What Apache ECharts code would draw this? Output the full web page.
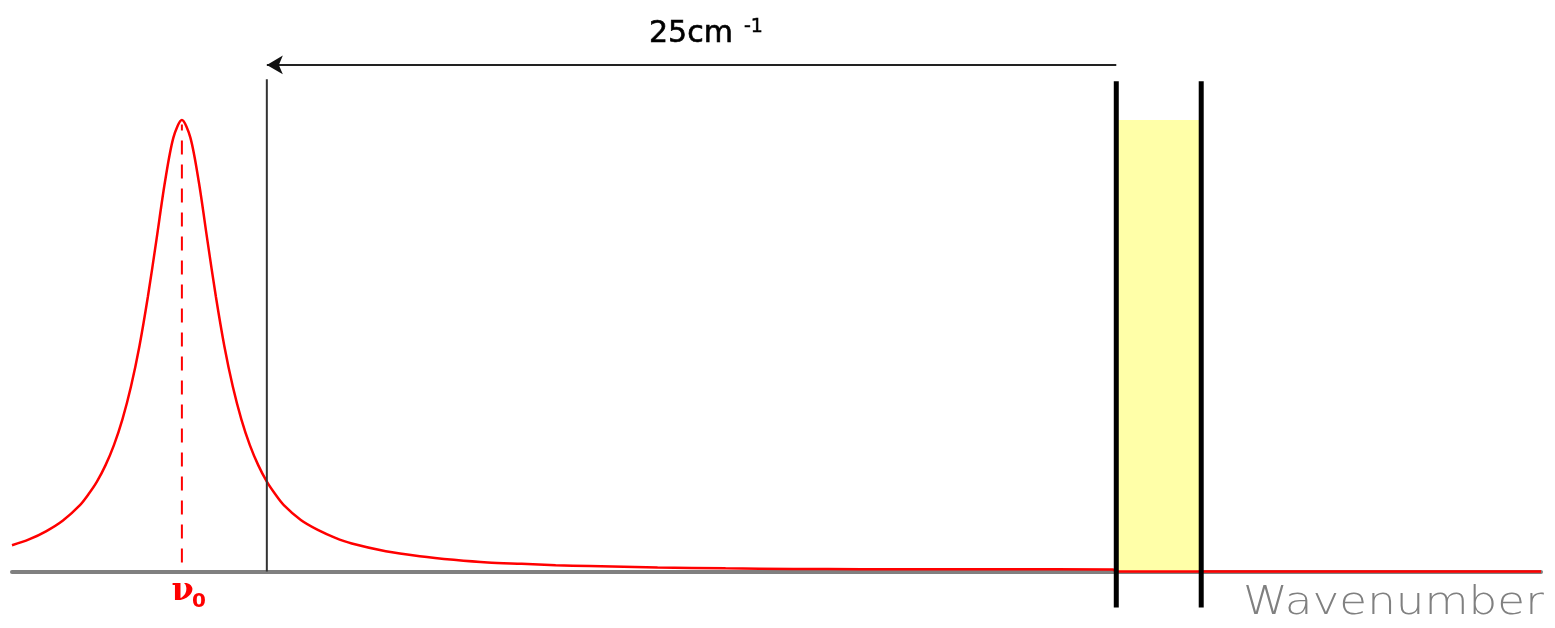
<!DOCTYPE html>
<html>
<head>
<meta charset="utf-8">
<script src="https://cdn.jsdelivr.net/npm/echarts@6/dist/echarts.min.js"></script>
<style>
html,body{margin:0;padding:0;background:#fff;}
#chart{width:1555px;height:628px;}
</style>
</head>
<body>
<div id="chart"></div>
<script>
// Wavenumber offset from the line centre (cm^-1)
const curveX = [-5,-4.5,-4,-3.5,-3,-2.75,-2.5,-2.25,-2,-1.75,-1.5,-1.25,-1,-0.75,-0.5,-0.25,0,
  0.25,0.5,0.75,1,1.25,1.5,1.75,2,2.25,2.5,2.75,3,3.5,4,4.5,5,6,7,8,9,10,11,12,14,16,18,20,24,27.4,27.5,32,36,40];
// Relative line intensity
const curveY = [0.058,0.071,0.089,0.113,0.147,0.171,0.199,0.235,0.280,0.337,0.409,0.499,0.609,0.734,0.862,0.961,1.0,
  0.961,0.862,0.734,0.609,0.499,0.409,0.337,0.280,0.235,0.199,0.171,0.147,0.114,0.092,0.075,0.062,0.045,0.034,0.026,0.020,0.017,0.014,0.012,0.009,0.007,0.0058,0.0052,0.0048,0.0045,0,0,0,0];

const centreX = 0;            // nu_0
const centreLine = [0.02, 0.99];
const cutoffX = 2.5;          // 25 cm^-1 from the window edge
const cutoffTop = 1.09;
const windowX = [27.5, 30];   // spectral window edges
const windowTop = 1.0;
const windowLineRange = [-0.08, 1.086];
const arrowY = 1.122;

const chart = echarts.init(document.getElementById('chart'), null, {renderer:'canvas'});

const curve = curveX.map((x,i)=>[x, curveY[i]]);

chart.setOption({
  animation:false,
  backgroundColor:'#ffffff',
  grid:{left:12, right:14, top:29.7, bottom:11.35},
  xAxis:{
    type:'value', min:-5, max:40,
    axisLine:{show:true, onZero:true, lineStyle:{color:'#808080', width:4}},
    axisTick:{show:false}, axisLabel:{show:false}, splitLine:{show:false}
  },
  yAxis:{type:'value', min:-0.1, max:1.2, show:false, splitLine:{show:false}},
  series:[
    {
      type:'line', data:[], silent:true,
      markArea:{silent:true, itemStyle:{color:'#ffffa8'},
        data:[[{coord:[windowX[0],0]},{coord:[windowX[1],windowTop]}]]},
      z:1
    },
    {
      type:'line', data:curve, symbol:'none', smooth:0.3, silent:true,
      lineStyle:{color:'#ff0000', width:2.5}, z:3
    },
    {
      type:'line', data:[[centreX,centreLine[0]],[centreX,centreLine[1]]], symbol:'none', silent:true,
      lineStyle:{color:'#ff0000', width:2, type:[14,10]}, z:3
    },
    {
      type:'line', data:[[cutoffX,0],[cutoffX,cutoffTop]], symbol:'none', silent:true,
      lineStyle:{color:'#333333', width:2}, z:4
    },
    {
      type:'line', data:[[windowX[0],windowLineRange[0]],[windowX[0],windowLineRange[1]]], symbol:'none', silent:true,
      lineStyle:{color:'#000000', width:5}, z:5
    },
    {
      type:'line', data:[[windowX[1],windowLineRange[0]],[windowX[1],windowLineRange[1]]], symbol:'none', silent:true,
      lineStyle:{color:'#000000', width:5}, z:5
    },
    {
      type:'line', data:[[windowX[0],arrowY],[cutoffX,arrowY]], silent:true,
      symbol:'none', lineStyle:{color:'#222222', width:2}, z:4,
      markPoint:{silent:true, symbol:'arrow', symbolSize:[14,16], symbolRotate:90, symbolOffset:[0,0],
        itemStyle:{color:'#111111'}, label:{show:false},
        data:[{coord:[cutoffX,arrowY]}]}
    }
  ],
  graphic:[
    {type:'text', x:649, y:34, z:10, silent:true,
      style:{text:'25cm', font:'30px "DejaVu Sans"', fill:'#000', stroke:'#000', lineWidth:0.6, align:'left', verticalAlign:'middle'}},
    {type:'text', x:744, y:27, z:10, silent:true,
      style:{text:'-1', font:'19px "DejaVu Sans"', fill:'#000', stroke:'#000', lineWidth:0.5, align:'left', verticalAlign:'middle'}},
    {type:'text', x:182.5, y:592, z:10, silent:true,
      style:{text:'ν', font:'bold 32px "DejaVu Serif"', fill:'#ff0000', align:'center', verticalAlign:'middle'}},
    {type:'text', x:199, y:602, z:10, silent:true,
      style:{text:'0', font:'bold 20px "DejaVu Sans"', fill:'#ff0000', align:'center', verticalAlign:'middle'}},
    {type:'text', x:1243, y:604, z:10, silent:true, scaleX:1.16,
      style:{text:'Wavenumber', font:'200 39px "DejaVu Sans"', fill:'#808080', align:'left', verticalAlign:'middle'}}
  ]
});
</script>
</body>
</html>
